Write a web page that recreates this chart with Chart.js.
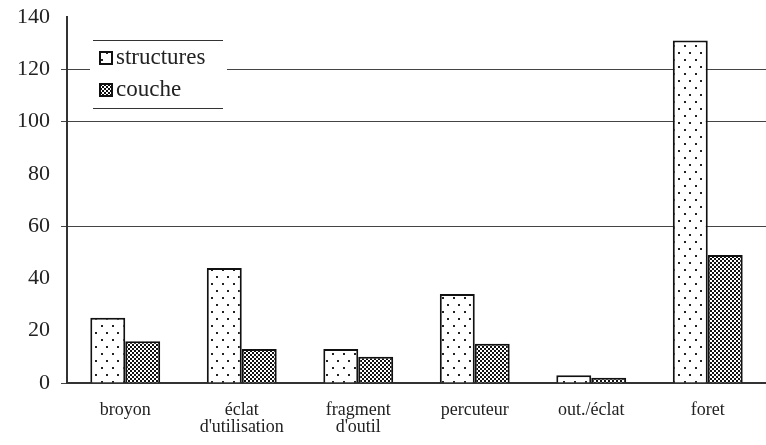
<!DOCTYPE html>
<html>
<head>
<meta charset="utf-8">
<script src="https://cdn.jsdelivr.net/npm/chart.js@4/dist/chart.umd.min.js"></script>
<style>
  body { margin: 0; background: #fff; }
  #wrap { width: 766px; height: 445px; }
</style>
</head>
<body>
<div id="wrap"><canvas id="chart"></canvas></div>
<script>
var categories = ['broyon', ['éclat', "d'utilisation"], ['fragment', "d'outil"], 'percuteur', 'out./éclat', 'foret'];
var structures = [25, 44, 13, 34, 3, 131];
var couche = [16, 13, 10, 15, 2, 49];
var seriesNames = ['structures', 'couche'];
var gridValues = [120, 100, 60];

// dotted pattern for "structures"
function dotPattern() {
  var c = document.createElement('canvas');
  c.width = 11; c.height = 14;
  var g = c.getContext('2d');
  g.fillStyle = '#fff';
  g.fillRect(0, 0, 11, 14);
  g.fillStyle = '#222';
  g.fillRect(2, 3, 2, 2);
  g.fillRect(7, 10, 2, 2);
  return g.createPattern(c, 'repeat');
}
// fine checker for "couche"
function checkPattern() {
  var c = document.createElement('canvas');
  c.width = 4; c.height = 4;
  var g = c.getContext('2d');
  g.fillStyle = '#fff';
  g.fillRect(0, 0, 4, 4);
  g.fillStyle = '#111';
  g.fillRect(0, 0, 2, 2);
  g.fillRect(2, 2, 2, 2);
  return g.createPattern(c, 'repeat');
}

var pats = [dotPattern(), checkPattern()];

var boxLegend = {
  id: 'boxLegend',
  afterDraw: function (chart) {
    var ctx = chart.ctx;
    ctx.save();
    ctx.fillStyle = '#fff';
    ctx.fillRect(90, 36, 137, 76);
    ctx.strokeStyle = '#333';
    ctx.lineWidth = 1;
    ctx.beginPath();
    ctx.moveTo(93, 40.5); ctx.lineTo(223, 40.5);
    ctx.moveTo(93, 108.5); ctx.lineTo(223, 108.5);
    ctx.stroke();
    ctx.font = '23px "Liberation Serif"';
    ctx.textBaseline = 'middle';
    for (var i = 0; i < seriesNames.length; i++) {
      var y = 51 + i * 32;
      ctx.fillStyle = pats[i];
      ctx.fillRect(99, y, 14, 14);
      ctx.lineWidth = 2;
      ctx.strokeStyle = '#111';
      ctx.strokeRect(100, y + 1, 12, 12);
      ctx.fillStyle = '#222';
      ctx.fillText(seriesNames[i], 116, y + 7);
    }
    ctx.restore();
  }
};

new Chart(document.getElementById('chart'), {
  type: 'bar',
  data: {
    labels: categories,
    datasets: [
      { label: seriesNames[0], data: structures, backgroundColor: pats[0], borderColor: '#111', borderWidth: 2 },
      { label: seriesNames[1], data: couche, backgroundColor: pats[1], borderColor: '#111', borderWidth: 2 }
    ]
  },
  options: {
    responsive: true,
    maintainAspectRatio: false,
    animation: false,
    layout: { padding: { top: 0, right: 0 } },
    datasets: { bar: { categoryPercentage: 0.6, barPercentage: 1 } },
    plugins: { legend: { display: false }, tooltip: { enabled: false } },
    scales: {
      x: {
        afterFit: function (s) { s.height = 62; },
        grid: { display: false },
        border: { color: '#333', width: 2 },
        ticks: { color: '#222', font: { family: 'Liberation Serif', size: 18, lineHeight: 0.95 }, maxRotation: 0, padding: 11 }
      },
      y: {
        min: 0, max: 140,
        afterFit: function (s) { s.width = 67; s.paddingTop = 17; },
        border: { color: '#333', width: 2 },
        grid: {
          color: function (c) { return gridValues.indexOf(c.tick.value) >= 0 ? '#444' : 'rgba(0,0,0,0)'; },
          tickColor: function (c) { return (gridValues.indexOf(c.tick.value) >= 0 || c.tick.value === 0) ? '#444' : 'rgba(0,0,0,0)'; },
          tickLength: 6,
          lineWidth: 1
        },
        ticks: { stepSize: 20, color: '#222', font: { family: 'Liberation Serif', size: 22, lineHeight: 1 }, padding: 11 }
      }
    }
  },
  plugins: [boxLegend]
});
</script>
</body>
</html>
